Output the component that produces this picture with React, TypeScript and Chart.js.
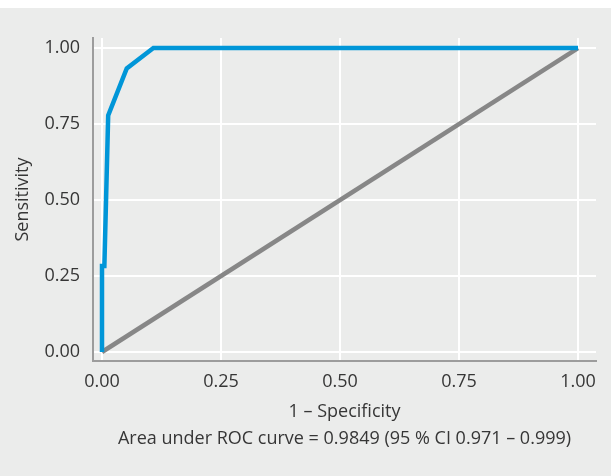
import React, { useEffect, useRef } from "react";
import { Chart, registerables } from "chart.js";

Chart.register(...registerables);

const rocX = [0, 0, 0.005, 0.013, 0.052, 0.108, 1];
const rocY = [0, 0.283, 0.283, 0.778, 0.933, 1, 1];
const refX = [0, 1];
const refY = [0, 1];
const tickValues = [0, 0.25, 0.5, 0.75, 1];
const xTitle = "1 – Specificity";
const aucText = "Area under ROC curve = 0.9849 (95 % CI 0.971 – 0.999)";
const yTitle = "Sensitivity";

const FONT = "'Open Sans', 'Noto Sans', sans-serif";
const TEXT = "#363636";

export default function App() {
  const ref = useRef<HTMLCanvasElement | null>(null);
  useEffect(() => {
    const canvas = ref.current!;
    const chart = new Chart(canvas, {
      type: "scatter",
      data: {
        datasets: [
          {
            data: rocX.map((x, i) => ({ x, y: rocY[i] })),
            showLine: true,
            borderColor: "#0096d8",
            backgroundColor: "#0096d8",
            borderWidth: 4.5,
            pointRadius: 0,
            tension: 0,
          },
          {
            data: refX.map((x, i) => ({ x, y: refY[i] })),
            showLine: true,
            borderColor: "#878787",
            backgroundColor: "#878787",
            borderWidth: 4.5,
            pointRadius: 0,
          },
        ],
      },
      options: {
        animation: false,
        responsive: false,
        devicePixelRatio: 1,
        layout: { padding: { top: 30, right: 15, left: 0, bottom: 0 } },
        plugins: { legend: { display: false }, tooltip: { enabled: false } },
        scales: {
          x: {
            type: "linear",
            min: -0.0189,
            max: 1.0378,
            afterBuildTicks: (s: any) => {
              s.ticks = tickValues.map((v) => ({ value: v }));
            },
            afterFit: (s: any) => {
              s.height = 115;
            },
            grid: { color: "#ffffff", lineWidth: 2, drawTicks: false },
            border: { display: true, color: "#9c9c9c", width: 2 },
            ticks: {
              color: TEXT,
              padding: 10,
              font: { family: FONT, size: 18 },
              callback: (v: any) => Number(v).toFixed(2),
              maxRotation: 0,
            },
            title: {
              display: true,
              text: [xTitle, aucText],
              color: TEXT,
              font: { family: FONT, size: 18, lineHeight: "27px" },
              padding: { top: 0, bottom: 24 },
            },
          },
          y: {
            type: "linear",
            min: -0.0296,
            max: 1.033,
            afterBuildTicks: (s: any) => {
              s.ticks = tickValues.map((v) => ({ value: v }));
            },
            afterFit: (s: any) => {
              s.width = 93;
            },
            grid: { color: "#ffffff", lineWidth: 2, drawTicks: false },
            border: { display: true, color: "#9c9c9c", width: 2 },
            ticks: {
              color: TEXT,
              padding: 13,
              font: { family: FONT, size: 18 },
              callback: (v: any) => Number(v).toFixed(2),
            },
            title: {
              display: true,
              text: yTitle,
              color: TEXT,
              font: { family: FONT, size: 18 },
              padding: { top: 12, bottom: 0 },
            },
          },
        },
      },
    });
    return () => chart.destroy();
  }, []);
  return (
    <div
      style={{
        position: "fixed",
        left: 0,
        top: 8,
        width: 611,
        height: 468,
        background: "#ebeceb",
      }}
    >
      <canvas ref={ref} width={611} height={468} style={{ display: "block" }} />
    </div>
  );
}
